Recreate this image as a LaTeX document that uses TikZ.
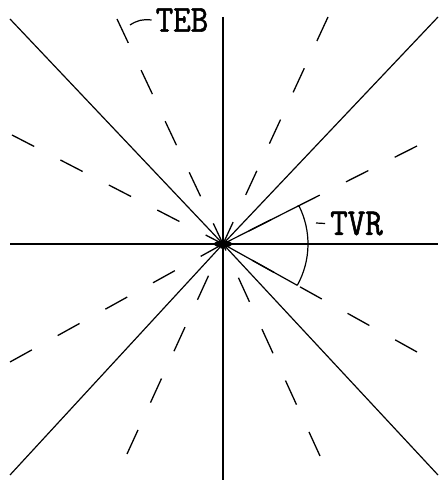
\documentclass[tikz,border=0pt]{standalone}
\usepackage{fontspec}
\newfontfamily\lblfont[FakeBold=1.6]{Latin Modern Mono}
\usetikzlibrary{calc}
\begin{document}
\begin{tikzpicture}[x=1pt,y=1pt,
  axis/.style={line width=1.7pt,black},
  diag/.style={line width=1.2pt,black},
  shallowray/.style={line width=1.3pt,black,dash pattern=on 25pt off 29.5pt},
  steepray/.style={line width=1.3pt,black,dash pattern=on 26.5pt off 30pt},
  lbl/.style={inner sep=0pt,font=\lblfont\fontsize{34}{34}\selectfont},
  leader/.style={line width=1.2pt,black}]
\useasboundingbox[fill=white] (0,0) rectangle (440,485);
\coordinate (c) at (223,241);
% axes
\coordinate (vt) at (223,468);
\coordinate (vb) at (223,5);
\coordinate (hl) at (10,241);
\coordinate (hr) at (438,241);
\draw[axis] (vt) -- (vb);
\draw[axis] (hl) -- (hr);
% diagonals
\coordinate (dul) at (10,466);
\coordinate (dur) at (438,468);
\coordinate (dll) at (10,10);
\coordinate (dlr) at (438,10);
\foreach \p in {dul,dur,dll,dlr} \draw[diag] (c) -- (\p);
% steep dashed rays
\coordinate (sul) at (117,466);
\coordinate (sur) at (328,468);
\coordinate (sll) at (127,31);
\coordinate (slr) at (320,29);
\foreach \p in {sul,sur,sll,slr} \draw[steepray] (\p) -- (c);
% shallow dashed rays
\coordinate (hul) at (12,350);
\coordinate (hur) at (417,339);
\coordinate (hll) at (10,123);
\coordinate (hlr) at (417,133);
\foreach \p in {hul,hur,hll,hlr} \draw[shallowray] (\p) -- (c);
% angle TVR
\coordinate (au) at ($(c)!85pt!(hur)$);
\coordinate (al) at ($(c)!85pt!(hlr)$);
\draw[diag] (c) -- (au);
\draw[diag] (c) -- (al);
\draw[diag] (al) arc[start angle=-29.1, end angle=26.8, radius=85];
% centre blob
\fill[black] (c) ellipse[x radius=9, y radius=3.5];
% labels
\node[lbl] (teb) at (182,465) {\scalebox{1}[1.12]{TEB}};
\coordinate (tebl) at (130,460);
\draw[leader] (tebl) to[bend left=20] ([xshift=-4pt]teb.west);
\node[lbl] (tvr) at (356.5,261.5) {\scalebox{1}[1.12]{TVR}};
\coordinate (tvrl) at (316,262);
\draw[leader] (tvrl) -- ([xshift=-5pt]tvr.west);
\end{tikzpicture}
\end{document}
